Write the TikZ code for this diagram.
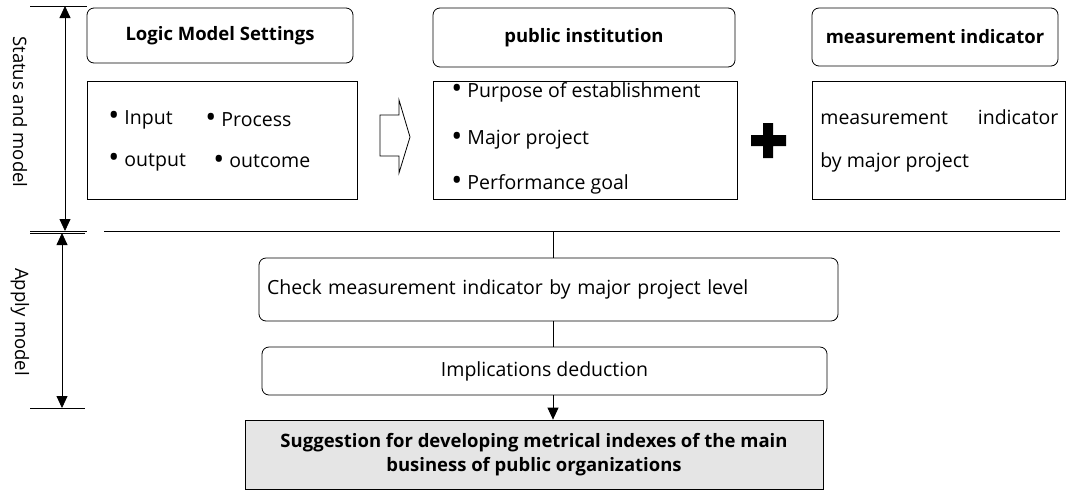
\documentclass[tikz,border=0pt]{standalone}
\usepackage{fontspec}
\setmainfont{Open Sans}
\usetikzlibrary{arrows.meta}
\newcommand{\bul}{\raisebox{-0.07em}{\scalebox{1.5}{•}}}
\tikzset{
  head/.style={draw, rounded corners=7pt, font=\bfseries\fontsize{18.5}{22}\selectfont},
  panel/.style={draw},
  item/.style={anchor=west, inner sep=0pt, font=\fontsize{19.5}{23}\selectfont},
  flow/.style={draw, rounded corners=7pt, font=\fontsize{19.5}{23}\selectfont},
  side/.style={rotate=-90, font=\fontsize{18.5}{22}\selectfont},
  tip/.style={{Triangle[width=11pt,length=12pt]}-{Triangle[width=11pt,length=12pt]}},
}
\begin{document}
\begin{tikzpicture}[x=1pt,y=-1pt,line width=0.8pt]
    \useasboundingbox (0,0) rectangle (1067,491);
    \node[head, minimum width=266pt, minimum height=55pt] (logic) at (220,35.5) {Logic Model Settings}; % headers
    \node[head, minimum width=302pt, minimum height=59pt] (inst) at (584,37.5) {public institution};
    \node[head, minimum width=246pt, minimum height=58pt] (meas) at (935,37) {measurement indicator};
    \node[panel, minimum width=270pt, minimum height=118pt] (logicbox) at (222,140) {}; % contents
    \node[panel, minimum width=304pt, minimum height=118pt] (instbox) at (585,140) {};
    \node[panel, minimum width=253pt, minimum height=118pt] (measbox) at (938.5,140) {};
    \node[item] (input) at (108,120) {\bul\ Input};
    \node[item] (process) at (205,120) {\bul\ Process};
    \node[item] (output) at (108,162) {\bul\ output};
    \node[item] (outcome) at (213,162) {\bul\ outcome};
    \node[item] (purpose) at (451,92) {\bul\ Purpose of establishment};
    \node[item] (project) at (451,140) {\bul\ Major project};
    \node[item] (goal) at (451,184) {\bul\ Performance goal};
    \node[item, text width=238pt] (bymeas) at (820,117) {measurement\hfill indicator};
    \node[item] (byproj) at (820,162) {by major project};
    \draw[fill=white] (380,115) -- (399,115) -- (399,100) -- (410,137) -- (399,173) -- (399,156) -- (380,156) -- cycle; % hollow arrow
    \fill (763,123) rectangle (773,158) (751,135) rectangle (786,146); % plus
    % apply part
    \node[flow, minimum width=579pt, minimum height=63pt, align=left, text width=563pt] (check) at (548.5,289.5) {Check measurement indicator by major project level};
    \node[flow, minimum width=565pt, minimum height=48pt] (impl) at (544.5,371) {Implications deduction};
    \node[draw, fill=black!10, minimum width=578pt, minimum height=69pt, align=center, font=\bfseries\fontsize{18.5}{24}\selectfont] (sugg) at (534,454.5) {Suggestion for developing metrical indexes of the main\\business of public organizations};
    \coordinate (split) at (553,231);
    \draw (104,231) -- (1060,231); % separator
    \draw (split) -- (split |- check.north);
    \draw (split |- check.south) -- (split |- impl.north);
    \draw[-{Triangle[width=11pt,length=12pt]}] (split |- impl.south) -- (split |- sugg.north);
    % side scales
    \coordinate (stop) at (65,6);
    \coordinate (sbot) at (65,231);
    \coordinate (atop) at (62,233);
    \coordinate (abot) at (62,408);
    \draw (30,6) -- (87,6) (30,231) -- (87,231);
    \draw (30,233) -- (85,233) (30,408) -- (85,408);
    \draw[tip] (stop) -- (sbot);
    \draw[tip] (atop) -- (abot);
    \node[side] (status) at (20,112) {Status and model};
    \node[side] (apply) at (20,322) {Apply model};
\end{tikzpicture}
\end{document}
